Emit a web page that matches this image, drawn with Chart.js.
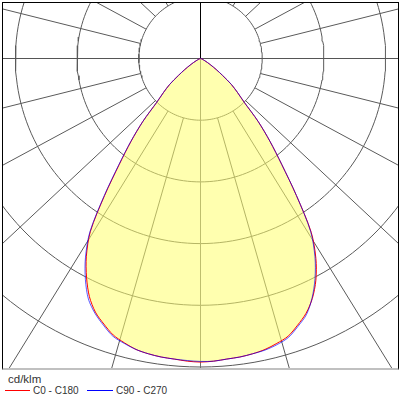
<!DOCTYPE html>
<html>
<head>
<meta charset="utf-8">
<script src="https://cdn.jsdelivr.net/npm/chart.js@4/dist/chart.umd.min.js"></script>
<style>
html,body{margin:0;padding:0;background:#fff;width:400px;height:400px;overflow:hidden;font-family:"Liberation Sans",Arial,sans-serif;color:#333;}
#frame{position:absolute;left:2px;top:2px;width:395px;height:365px;border-left:1px solid #000;border-top:1px solid #000;border-right:1px solid #000;border-bottom:2px solid #c0c0c0;}
#frame canvas{display:block;}
.t{position:absolute;white-space:nowrap;}
.ln{position:absolute;height:1px;}
</style>
</head>
<body>
<div id="frame"><canvas id="c" width="395" height="365"></canvas></div>
<div class="t" style="left:8px;top:373px;font-size:11.5px;">cd/klm</div>
<div class="ln" style="left:5px;top:390px;width:25px;background:#ff0000;"></div>
<div class="t" style="left:33px;top:385px;font-size:10px;">C0 - C180</div>
<div class="ln" style="left:87px;top:390px;width:26px;background:#0000ff;"></div>
<div class="t" style="left:116px;top:385px;font-size:10px;">C90 - C270</div>
<script>
// Polar grid values (cd/klm) and grid angles (degrees from nadir)
const ringValues = [100, 200, 300, 400, 500, 600];
const gridAngles = [15, 30, 45, 60, 75, 105, 120, 135, 150, 165, 195, 210, 225, 240, 255, 285, 300, 315, 330, 345];
const axisAngles = [0, 90, 180, 270];
// Gamma angles (degrees) and luminous intensities (cd/klm)
const gamma = [0, 2.5, 5, 7.5, 10, 12.5, 15, 17.5, 20, 22.5, 25, 27.5, 30, 32.5, 35, 37.5, 40, 42.5, 45,
               47.5, 50, 52.5, 55, 57.5, 60, 62.5, 65, 67.5, 70, 72.5, 75, 77.5, 80, 85, 90];
const c0   = [492, 491, 489, 488, 486, 483, 478, 472, 460, 447, 429, 405, 374, 334, 271, 216, 175, 138, 100,
              81, 65, 45, 31, 20, 13, 8, 5, 3, 2, 1, 1, 0, 0, 0, 0];
const c180 = [492, 491, 489, 488, 486, 483, 477, 470, 458, 445, 426, 400, 370, 332, 271, 216, 175, 138, 100,
              81, 65, 45, 31, 20, 13, 8, 5, 3, 2, 1, 1, 0, 0, 0, 0];
const c90  = [491, 491, 489, 488, 486, 484, 480, 474, 462, 449, 428, 402, 371, 332, 271, 216, 175, 138, 100,
              81, 65, 45, 31, 20, 13, 8, 5, 3, 2, 1, 1, 0, 0, 0, 0];
const c270 = [491, 490, 489, 488, 486, 483, 478, 472, 460, 447, 430, 404, 373, 334, 273, 218, 176, 138, 100,
              81, 65, 45, 31, 20, 13, 8, 5, 3, 2, 1, 1, 0, 0, 0, 0];

const RAD = Math.PI / 180;
function polar(deg, r) { return {x: r * Math.sin(deg * RAD), y: -r * Math.cos(deg * RAD)}; }
function curve(leftVals, rightVals) {
  const pts = [];
  for (let i = gamma.length - 1; i >= 0; i--) pts.push(polar(-gamma[i], leftVals[i]));
  for (let i = 1; i < gamma.length; i++) pts.push(polar(gamma[i], rightVals[i]));
  return pts;
}
// radial grid lines are drawn slightly stretched horizontally, as in the original diagram
const lineStretch = 1.07;
function skewDir(deg) {
  const dx = lineStretch * Math.sin(deg * RAD), dy = -Math.cos(deg * RAD);
  const n = Math.hypot(dx, dy);
  return {x: dx / n, y: dy / n};
}

const gridColor = '#5a5a5a';
const datasets = [];
datasets.push({label: 'C0 - C180', data: curve(c180, c0), showLine: true, borderColor: '#ff0000', borderWidth: 1,
  pointRadius: 0, tension: 0.3, fill: 'shape', backgroundColor: 'rgba(255,255,110,0.55)', order: 1});
datasets.push({label: 'C90 - C270', data: curve(c270, c90), showLine: true, borderColor: 'rgba(0,0,255,0.65)', borderWidth: 1,
  pointRadius: 0, tension: 0.3, fill: false, order: 0});
const outer = ringValues[ringValues.length - 1] + 400;
ringValues.forEach(v => {
  const pts = [];
  for (let a = 0; a <= 360; a += 2) pts.push(polar(a, v));
  datasets.push({data: pts, showLine: true, borderColor: gridColor, borderWidth: 1, pointRadius: 0, fill: false, order: 10});
});
gridAngles.forEach(a => {
  const d = skewDir(a);
  const r0 = ringValues[0];
  datasets.push({data: [{x: d.x * r0, y: d.y * r0}, {x: d.x * outer, y: d.y * outer}], showLine: true,
    borderColor: gridColor, borderWidth: 1, pointRadius: 0, fill: false, order: 10});
});
axisAngles.forEach(a => {
  datasets.push({data: [polar(a, 0), polar(a, outer)], showLine: true,
    borderColor: a === 180 ? '#000000' : (a === 0 ? '#707070' : '#555555'),
    borderWidth: 1, pointRadius: 0, fill: false, order: 9});
});

const pxPerUnit = 0.617;
const cx = 197.5, cy = 55.5, W = 395, H = 365;
new Chart(document.getElementById('c'), {
  type: 'scatter',
  data: {datasets},
  options: {
    responsive: false, maintainAspectRatio: false, animation: false, events: [],
    layout: {padding: 0, autoPadding: false},
    plugins: {legend: {display: false}, tooltip: {enabled: false}},
    scales: {
      x: {type: 'linear', display: false, min: -cx / pxPerUnit, max: (W - cx) / pxPerUnit},
      y: {type: 'linear', display: false, min: -(H - cy) / pxPerUnit, max: cy / pxPerUnit}
    }
  }
});
</script>
</body>
</html>
